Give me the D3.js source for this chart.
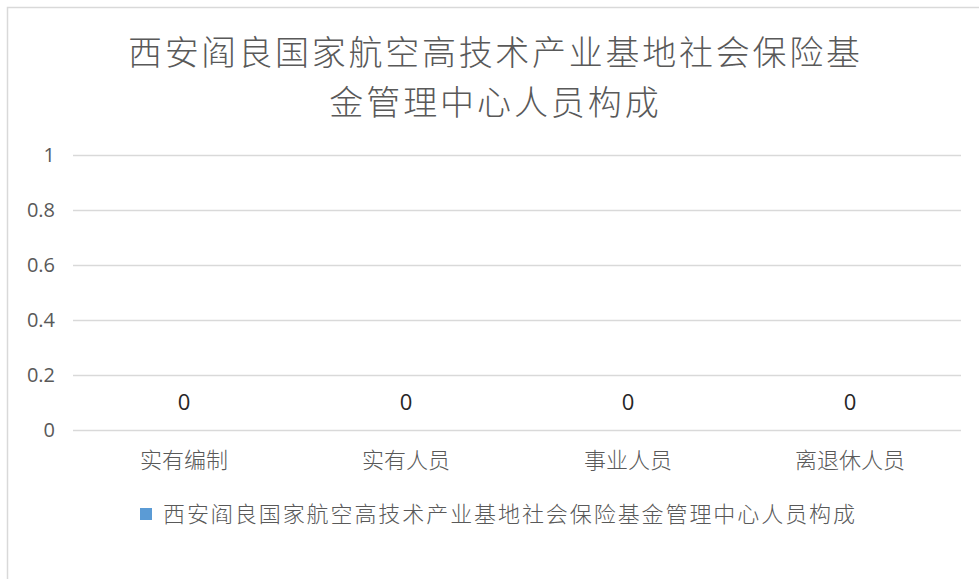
<!DOCTYPE html>
<html><head><meta charset="utf-8">
<script src="https://cdn.jsdelivr.net/npm/d3@7"></script>
<style>
html,body{margin:0;padding:0;background:#fff;}
svg{display:block;}
text{font-family:"Noto Sans CJK SC","Noto Sans",sans-serif;}
</style></head>
<body>
<svg id="chart" width="979" height="579"></svg>
<script>
const titleLines = ["西安阎良国家航空高技术产业基地社会保险基", "金管理中心人员构成"];
const seriesName = "西安阎良国家航空高技术产业基地社会保险基金管理中心人员构成";
const categories = ["实有编制", "实有人员", "事业人员", "离退休人员"];
const values = [0, 0, 0, 0];
const yTicks = [0, 0.2, 0.4, 0.6, 0.8, 1];

const svg = d3.select("#chart");
const W = 979, H = 579;
const margin = {left: 73, right: 18, top: 155, bottom: 149};

svg.append("rect").attr("x", 7.5).attr("y", 7.5).attr("width", 1200).attr("height", 1200)
  .attr("fill", "#fff").attr("stroke", "#d9d9d9").attr("stroke-width", 1.5);

const x = d3.scaleBand().domain(categories).range([margin.left, W - margin.right]).padding(0);
const y = d3.scaleLinear().domain([0, 1]).range([H - margin.bottom, margin.top]);

// title
const titleFs = 34, titleLh = 49.5;
svg.append("g").selectAll("text").data(titleLines).join("text")
  .attr("x", 494).attr("y", (d, i) => 65 + i * titleLh)
  .attr("text-anchor", "middle").attr("font-size", titleFs).attr("font-weight", 300).attr("fill", "#595959")
  .attr("textLength", d => d.length * 36.6).attr("lengthAdjust", "spacing")
  .text(d => d);

// gridlines
svg.append("g").selectAll("line").data(yTicks).join("line")
  .attr("x1", margin.left).attr("x2", W - margin.right)
  .attr("y1", d => Math.round(y(d)) + 0.5).attr("y2", d => Math.round(y(d)) + 0.5)
  .attr("stroke", "#d9d9d9").attr("stroke-width", 1.3);

// y axis labels
const yAxis = d3.axisLeft(y).tickValues(yTicks).tickSize(0).tickPadding(0).tickFormat(d3.format("~g"));
const ya = svg.append("g").attr("transform", `translate(${55},0)`).call(yAxis);
ya.select(".domain").remove();
ya.selectAll("text").attr("font-size", 20).attr("fill", "#595959")
  .style("font-family", "'Open Sans','Noto Sans',sans-serif");

// x axis labels
const xAxis = d3.axisBottom(x).tickSize(0).tickPadding(0);
const xa = svg.append("g").attr("transform", `translate(0,${H - margin.bottom + 22})`).call(xAxis);
xa.select(".domain").remove();
xa.selectAll("text").attr("font-size", 22).attr("font-weight", 300).attr("fill", "#595959")
  .style("font-family", "'Noto Sans CJK SC',sans-serif");

// bars (zero height)
svg.append("g").selectAll("rect").data(values).join("rect")
  .attr("x", (d, i) => x(categories[i]) + x.bandwidth() * 0.2)
  .attr("width", x.bandwidth() * 0.6)
  .attr("y", d => y(d)).attr("height", d => y(0) - y(d))
  .attr("fill", "#5b9bd5");

// data labels
svg.append("g").selectAll("text").data(values).join("text")
  .attr("x", (d, i) => x(categories[i]) + x.bandwidth() / 2)
  .attr("y", d => y(d) - 20)
  .attr("text-anchor", "middle").attr("font-size", 22).attr("fill", "#262626")
  .style("font-family", "'Open Sans','Noto Sans',sans-serif")
  .text(d => d);

// legend
const lg = svg.append("g").attr("transform", "translate(140,508)");
lg.append("rect").attr("x", 0).attr("y", 0).attr("width", 12).attr("height", 12).attr("fill", "#5b9bd5");
lg.append("text").attr("x", 23).attr("y", 14).attr("font-size", 22).attr("font-weight", 300).attr("fill", "#595959")
  .attr("textLength", 692).attr("lengthAdjust", "spacing")
  .text(seriesName);
</script>
</body></html>
